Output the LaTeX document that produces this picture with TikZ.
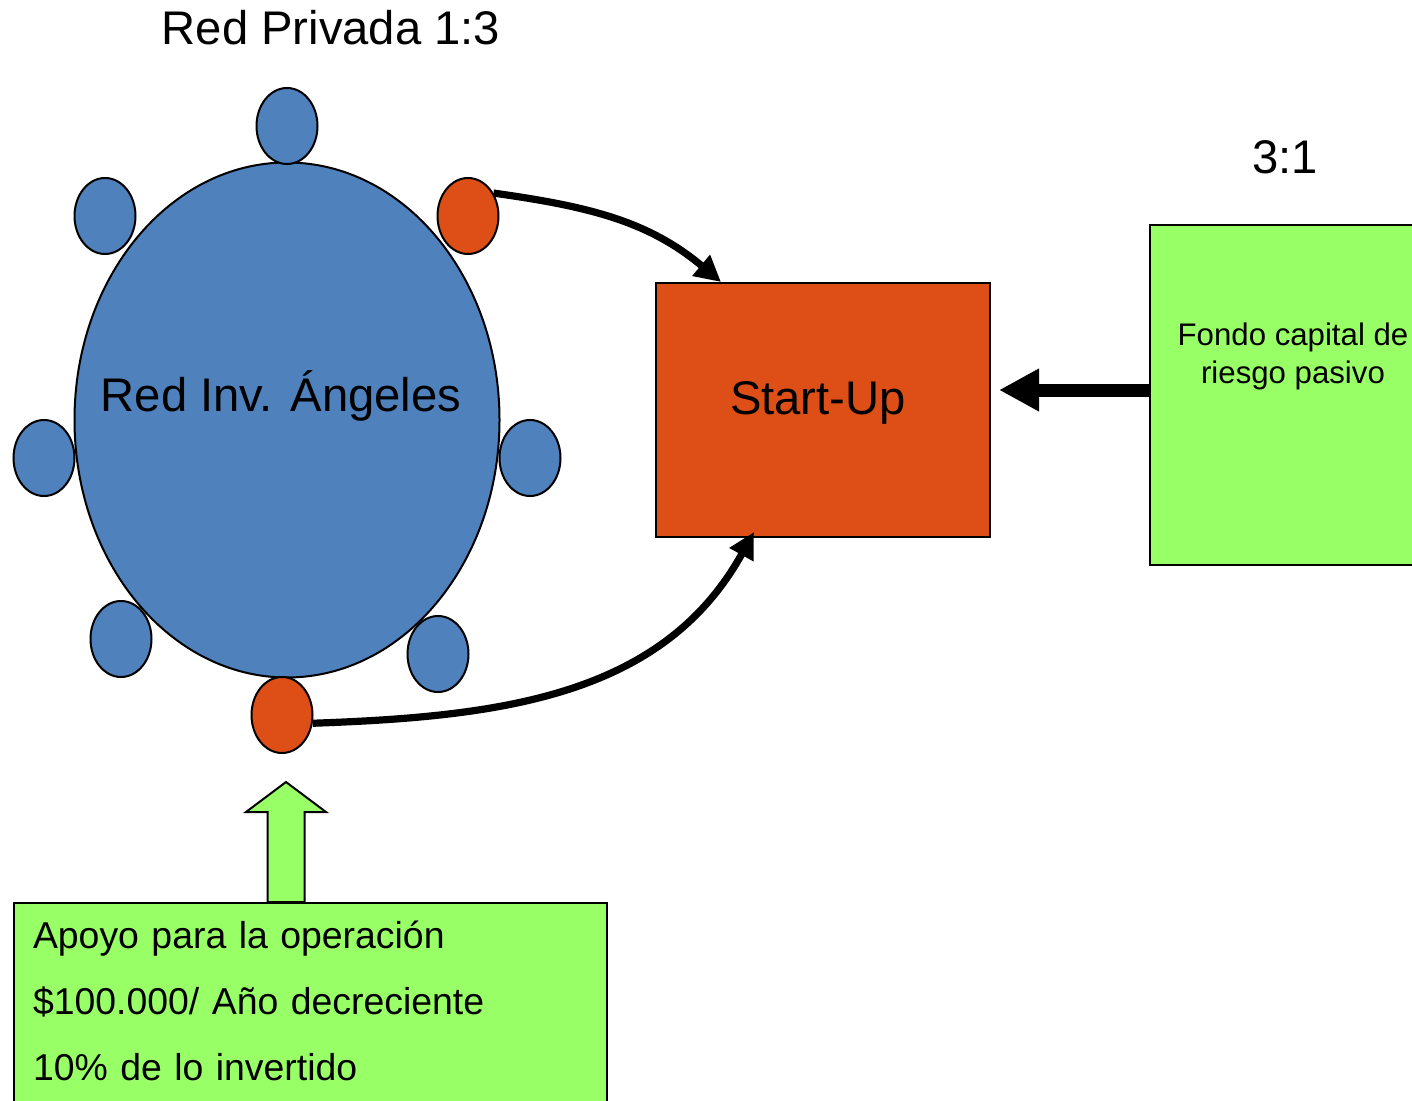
\documentclass[tikz,border=0pt]{standalone}
\usepackage{fontspec}
\setsansfont{Liberation Sans}
\usetikzlibrary{positioning, arrows.meta, shapes.geometric}
\definecolor{angelBlue}{HTML}{4F81BD}
\definecolor{angelOrange}{HTML}{DD4F17}
\definecolor{angelGreen}{HTML}{99FF66}

\begin{document}
\begin{tikzpicture}[
  x=0.5pt, y=-0.5pt,
  every node/.style={font=\sffamily, text=black},
  bigfont/.style={font=\sffamily\fontsize{23.6}{28}\selectfont},
  tableshape/.style={
    ellipse, draw, line width=1pt, fill=angelBlue,
    minimum width=212.5pt, minimum height=257.5pt, inner sep=0pt
  },
  seat/.style={
    ellipse, draw, line width=1pt, fill=#1,
    minimum width=30.5pt, minimum height=38pt, inner sep=0pt
  },
  seat/.default=angelBlue,
  startbox/.style={
    rectangle, draw, line width=1pt, fill=angelOrange,
    minimum width=167pt, minimum height=127pt
  },
  greenbox/.style={
    rectangle, draw, line width=1pt, fill=angelGreen, inner sep=0pt
  },
  investarrow/.style={
    -{Triangle[length=13pt, width=13pt]}, line width=3.6pt
  },
  fundarrow/.style={
    -{Triangle[length=20pt, width=20pt]}, line width=6.5pt
  },
]
\useasboundingbox (0,0) rectangle (1412,1101);
\clip (0,0) rectangle (1412,1101);

% === RED DE INVERSIONISTAS ===
\node[tableshape] (net) at (287,420) {};
\node[bigfont] (netlabel) at (281,396) {Red Inv. Ángeles};

\node[seat] (sN)  at (287,126) {};
\node[seat] (sNW) at (105,216) {};
\node[seat=angelOrange] (oTop) at (468,216) {};
\node[seat] (sW)  at (44,458) {};
\node[seat] (sE)  at (530,458) {};
\node[seat] (sSW) at (121,639) {};
\node[seat] (sSE) at (438,654) {};
\node[seat=angelOrange] (oBot) at (282,715) {};

\node[bigfont] (title) at (331,28) {Red Privada 1:3};

% === START-UP Y FONDO ===
\node[startbox] (su) at (823,410) {};
\node[bigfont] (sutxt) at (818,403) {Start-Up};

\node[greenbox, minimum width=143pt, minimum height=170pt] (fondo) at (1293,395) {};
\node[font=\sffamily\fontsize{15.6}{19}\selectfont, align=center] (fondotxt) at (1293,356)
  {Fondo capital de\\riesgo pasivo};
\node[bigfont] (ratio) at (1285,157) {3:1};

% === APOYO ===
\node[greenbox, anchor=north west, minimum width=296.5pt, minimum height=108pt] (apoyo) at (13,902) {};
\node[text width=276.5pt, inner sep=0pt, align=left,
  font=\sffamily\fontsize{18.7}{33}\selectfont] (apoyotxt) at (309.5,1001)
  {Apoyo para la operación\\
   \$100.000/ Año decreciente\\
   10\% de lo invertido};

\coordinate (upbase) at ([xshift=2pt]apoyo.north -| oBot);
\draw[line width=1pt, fill=angelGreen]
  (upbase) ++(-18.5,0) -- ++(0,-90) -- ++(-21.5,0) -- ++(40,-30)
  -- ++(40,30) -- ++(-21.5,0) -- ++(0,90) -- cycle;

% === Flechas ===
\draw[investarrow] (oTop.42) to[out=-8, in=140] ([xshift=33pt]su.north west);
\draw[investarrow] (oBot.-15) to[out=2, in=-119] ([xshift=49.5pt, yshift=3pt]su.south west);
\draw[fundarrow, shorten >=4pt] ([yshift=2.5pt]fondo.west) -- ([yshift=2.5pt]fondo.west -| su.east);

\end{tikzpicture}
\end{document}
